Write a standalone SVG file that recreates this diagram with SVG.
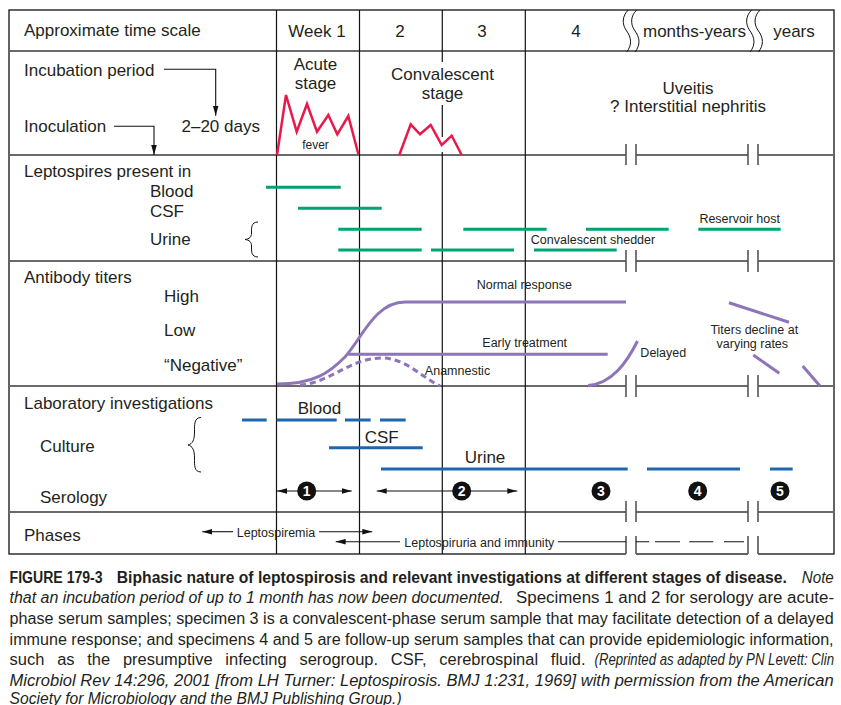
<svg xmlns="http://www.w3.org/2000/svg" width="841" height="705" viewBox="0 0 841 705">
<style>
text{font-family:"Liberation Sans",Arial,sans-serif;fill:#231f20}
.l{font-size:17px}
.s{font-size:12.5px}
.m{text-anchor:middle}
.cap{font-size:16px}
.b{font-weight:bold}
.i{font-style:italic}
.frame{fill:none;stroke:#111;stroke-width:1.3}
.hd{stroke:#6a6a6a;stroke-width:1.8;fill:none}
.vl{stroke:#111;stroke-width:1.2;fill:none}
.tk{stroke:#555;stroke-width:1.6;fill:none}
.fev{fill:none;stroke:#e8194b;stroke-width:2.5;stroke-linejoin:miter}
.gr{stroke:#00a372;stroke-width:3;fill:none}
.pu{stroke:#8e75b8;stroke-width:3;fill:none}
.bl{stroke:#1e66ad;stroke-width:3;fill:none}
.ar{stroke:#111;stroke-width:1.1;fill:none}
.br{stroke:#111;stroke-width:1;fill:none}
.num{font-size:14px;font-weight:bold;fill:#fff;text-anchor:middle}
</style>
<defs>
<marker id="ah" markerUnits="userSpaceOnUse" markerWidth="10" markerHeight="6" refX="10" refY="3" orient="auto-start-reverse"><path d="M0,0.2 L10,3 L0,5.8 z" fill="#111"/></marker>
</defs>

<g id="grid">
<rect class="frame" x="9" y="10" width="825" height="544"/>
<line class="hd" x1="9" y1="51" x2="834" y2="51"/>
<path class="hd" d="M9,155H626M636,155H748M758,155H834"/>
<path class="hd" d="M9,261H626M636,261H748M758,261H834"/>
<path class="hd" d="M9,386H626M636,386H748M758,386H834"/>
<path class="hd" d="M9,512H626M636,512H748M758,512H834"/>
<path d="M626,554H636M748,554H758" stroke="#fff" stroke-width="3"/>
<line class="vl" x1="276.5" y1="10" x2="276.5" y2="554"/>
<line class="vl" x1="359.5" y1="10" x2="359.5" y2="554"/>
<path class="vl" d="M442.3,10V62M442.3,105V137M442.3,152V554"/>
<line class="vl" x1="525.3" y1="10" x2="525.3" y2="554"/>
<path class="tk" d="M626,144V165M636,144V165M748,144V165M758,144V165"/>
<path class="tk" d="M626,250V272M636,250V272M748,250V272M758,250V272"/>
<path class="tk" d="M626,375V397M636,375V397M748,375V397M758,375V397"/>
<path class="tk" d="M626,501V522M636,501V522M748,501V522M758,501V522"/>
<path class="tk" d="M626,536V554M636,536V554M748,536V554M758,536V554"/>
<path class="br" d="M628.3,10 C622,16 622,24 626,30 C632,38 632,45 626.7,52 M636.7,10 C630.4,16 630.4,24 634.4,30 C640.4,38 640.4,45 635.1,52"/>
<path class="br" d="M751.7,10 C745.4,16 745.4,24 749.4,30 C755.4,38 755.4,45 750.1,52 M760.1,10 C753.8,16 753.8,24 757.8,30 C763.8,38 763.8,45 758.5,52"/>
</g>

<g id="header">
<text class="l" x="24" y="36">Approximate time scale</text>
<text class="l m" x="317" y="36.5">Week 1</text>
<text class="l m" x="400" y="36.5">2</text>
<text class="l m" x="482" y="36.5">3</text>
<text class="l m" x="576" y="36.5">4</text>
<text class="l m" x="694.5" y="36.5">months-years</text>
<text class="l m" x="794" y="36.5">years</text>
</g>

<g id="stages">
<text class="l" x="24" y="76">Incubation period</text>
<text class="l" x="24" y="132">Inoculation</text>
<text class="l" x="181.5" y="132">2–20 days</text>
<text class="l m" x="315.5" y="69.5">Acute</text>
<text class="l m" x="315.5" y="88.5">stage</text>
<text class="l m" x="442.5" y="80">Convalescent</text>
<text class="l m" x="442.5" y="98.5">stage</text>
<text class="l m" x="688" y="94">Uveitis</text>
<text class="l m" x="688" y="112">? Interstitial nephritis</text>
<polyline class="fev" points="277,155 286,95 296.7,131.7 307,104 317,131.7 328.3,115 337.3,134.3 348.3,116 358.3,154"/>
<text class="s m" x="315.5" y="149" style="font-size:12px">fever</text>
<polyline class="fev" points="399.3,155 410.7,124.3 420,134.3 430.7,125 441.7,145 451.7,135.7 461.7,155"/>
</g>

<g id="leptospires">
<text class="l" x="24" y="177">Leptospires present in</text>
<text class="l" x="150" y="196.5">Blood</text>
<text class="l" x="150" y="216.7">CSF</text>
<text class="l" x="150" y="245">Urine</text>
<path class="br" d="M258,222 C251,222 251.5,228 251.5,233 C251.5,237 249.5,239 245,239.5 C249.5,240 251.5,242 251.5,246 C251.5,251 251,257 258,257"/>
<path class="gr" d="M266,187.3H340.7M298,208.3H381.7"/>
<path class="gr" d="M338.3,229.3H421.7M463.3,229.3H546.7M586,229.3H668.7M698.3,229.3H780.7"/>
<path class="gr" d="M338.3,250H421.7M431,250H514M534,250H616.7"/>
<text class="s m" x="593" y="244.3">Convalescent shedder</text>
<text class="s m" x="739.7" y="223.3">Reservoir host</text>
</g>

<g id="antibody">
<text class="l" x="24" y="283.3">Antibody titers</text>
<text class="l" x="164" y="301.7">High</text>
<text class="l" x="164" y="336">Low</text>
<text class="l" x="164" y="371">“Negative”</text>
<path class="pu" d="M277,384 C315,384 330,372 345,357 C362,338 375,302 405,302 L626,302"/>
<path class="pu" d="M348.3,354.3H607.7"/>
<path class="pu" d="M300,385 C330,383 350,358 381.7,358 C405,358 420,376 440,386" stroke-dasharray="6,4"/>
<path class="pu" d="M588,385.5 C612,384 627,362 637.5,341"/>
<path class="pu" d="M729,302.7L789,322.3M753.3,355L779.3,373.3M802.7,366L820,386"/>
<text class="s m" x="524.3" y="289">Normal response</text>
<text class="s m" x="524.7" y="347.3">Early treatment</text>
<text class="s m" x="457.5" y="375">Anamnestic</text>
<text class="s m" x="663.3" y="356.7">Delayed</text>
<text class="s m" x="754.3" y="334">Titers decline at</text>
<text class="s m" x="752.3" y="347.5">varying rates</text>
</g>

<g id="laboratory">
<text class="l" x="24" y="409">Laboratory investigations</text>
<text class="l" x="40" y="451.7">Culture</text>
<text class="l" x="40" y="502.7">Serology</text>
<path class="br" d="M201,417.5 C194,417.5 194.5,425 194.5,432 C194.5,440 192.5,444 188,445 C192.5,446 194.5,450 194.5,458 C194.5,465 194,472 201,472"/>
<text class="l m" x="319.5" y="414">Blood</text>
<text class="l m" x="381.7" y="442.7">CSF</text>
<text class="l m" x="485" y="462.7">Urine</text>
<path class="bl" d="M242,420H266.7M276.7,420H336.7M345,420H370.7M380,420H405.7"/>
<path class="bl" d="M329,447.7H422.7"/>
<path class="bl" d="M381,469H627.7M647,469H740M770,469H792.7"/>
</g>

<g id="connectors">
<path class="ar" d="M164,69.3H215.7V115.7" marker-end="url(#ah)"/>
<path class="ar" d="M114,126.3H154V155" marker-end="url(#ah)"/>
<path class="ar" d="M277,491H351.7" marker-start="url(#ah)" marker-end="url(#ah)"/>
<path class="ar" d="M376.7,491H517.3" marker-start="url(#ah)" marker-end="url(#ah)"/>
<path class="ar" d="M202.3,531.7H233" marker-start="url(#ah)"/>
<path class="ar" d="M319,531.7H372.3" marker-end="url(#ah)"/>
<path class="ar" d="M335.7,541.7H400" marker-start="url(#ah)"/>
<path class="ar" d="M558,541.7H626M636,541.7H649.3M655,541.7H680M689.3,541.7H713.3M724,541.7H744"/>
</g>

<g id="specimens">
<circle cx="306.7" cy="491" r="9.5" fill="#111"/><text class="num" x="306.7" y="496">1</text>
<circle cx="461.7" cy="491" r="9.5" fill="#111"/><text class="num" x="461.7" y="496">2</text>
<circle cx="601" cy="491" r="9.5" fill="#111"/><text class="num" x="601" y="496">3</text>
<circle cx="697.7" cy="491" r="9.5" fill="#111"/><text class="num" x="697.7" y="496">4</text>
<circle cx="780" cy="491" r="9.5" fill="#111"/><text class="num" x="780" y="496">5</text>
</g>

<g id="phases">
<text class="l" x="24" y="540.7">Phases</text>
<text class="s m" x="276" y="536.7">Leptospiremia</text>
<text class="s" x="404.3" y="546.7">Leptospiruria and immunity</text>
</g>

<g id="caption">
<text class="cap b" x="9.6" y="582.5" textLength="93" lengthAdjust="spacingAndGlyphs">FIGURE 179-3</text>
<text class="cap b" x="116.8" y="582.5" textLength="670" lengthAdjust="spacingAndGlyphs">Biphasic nature of leptospirosis and relevant investigations at different stages of disease.</text>
<text class="cap i" x="801.8" y="582.5" textLength="32" lengthAdjust="spacingAndGlyphs">Note</text>
<text class="cap i" x="9.6" y="603" textLength="494" lengthAdjust="spacingAndGlyphs">that an incubation period of up to 1 month has now been documented.</text>
<text class="cap" x="516" y="603" textLength="318" lengthAdjust="spacingAndGlyphs">Specimens 1 and 2 for serology are acute-</text>
<text class="cap" x="9.6" y="624" textLength="824" lengthAdjust="spacingAndGlyphs">phase serum samples; specimen 3 is a convalescent-phase serum sample that may facilitate detection of a delayed</text>
<text class="cap" x="9.6" y="644.5" textLength="824" lengthAdjust="spacingAndGlyphs">immune response; and specimens 4 and 5 are follow-up serum samples that can provide epidemiologic information,</text>
<text class="cap" x="9.6" y="665" word-spacing="8" textLength="576" lengthAdjust="spacingAndGlyphs">such as the presumptive infecting serogroup. CSF, cerebrospinal fluid.</text>
<text class="cap i" x="834" y="665" text-anchor="end" textLength="239.5" lengthAdjust="spacingAndGlyphs">(Reprinted as adapted by PN Levett: Clin</text>
<text class="cap i" x="9.6" y="685.5" textLength="824" lengthAdjust="spacingAndGlyphs">Microbiol Rev 14:296, 2001 [from LH Turner: Leptospirosis. BMJ 1:231, 1969] with permission from the American</text>
<text class="cap i" x="9.6" y="703.5" textLength="392" lengthAdjust="spacingAndGlyphs">Society for Microbiology and the BMJ Publishing Group.)</text>
</g>
</svg>
